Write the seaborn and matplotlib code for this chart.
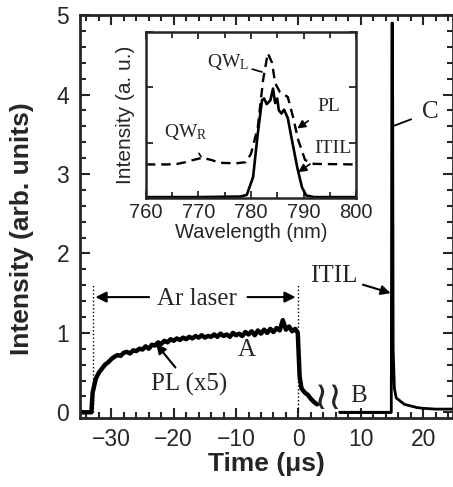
import matplotlib
matplotlib.use("Agg")
import matplotlib.pyplot as plt
import seaborn as sns
import pandas as pd
from matplotlib.ticker import MultipleLocator

# ---------------- data ----------------
pl_time = [-35.0, -33.2, -33.0, -32.5, -32.0, -31.5, -31.0, -30.5, -30.0, -29.5, -29.0, -28.5,
           -28.0, -27.5, -27.0, -26.5, -26.0, -25.5, -25.0, -24.5, -24.0, -23.5, -23.0,
           -22.5, -22.0, -21.5, -21.0, -20.5, -20.0, -19.5, -19.0, -18.5, -18.0, -17.5,
           -17.0, -16.5, -16.0, -15.5, -15.0, -14.5, -14.0, -13.5, -13.0, -12.5, -12.0,
           -11.5, -11.0, -10.5, -10.0, -9.5, -9.0, -8.5, -8.0, -7.5, -7.0, -6.5, -6.0,
           -5.5, -5.0, -4.5, -4.0, -3.5, -3.0, -2.5, -2.0, -1.5, -1.0, -0.5, -0.1,
           0.2, 0.5, 1.0, 1.5, 2.0, 2.5, 3.0]
pl_int = [0.0, 0.0, 0.25, 0.42, 0.50, 0.55, 0.60, 0.63, 0.67, 0.70, 0.72, 0.71,
          0.75, 0.76, 0.74, 0.78, 0.77, 0.80, 0.79, 0.83, 0.80, 0.85, 0.84,
          0.88, 0.86, 0.90, 0.88, 0.92, 0.90, 0.93, 0.91, 0.94, 0.92, 0.95,
          0.93, 0.96, 0.94, 0.97, 0.94, 0.96, 0.95, 0.98, 0.95, 0.99, 0.96,
          0.98, 0.95, 1.00, 0.97, 0.99, 0.96, 1.01, 0.98, 1.02, 0.97, 1.03, 0.99,
          1.04, 1.00, 1.05, 1.01, 1.06, 1.03, 1.16, 1.04, 1.08, 1.02, 1.05, 1.00,
          0.45, 0.30, 0.25, 0.22, 0.17, 0.13, 0.10]

itil_time = [6.6, 14.7, 14.9, 15.0, 15.1, 15.2, 15.4, 15.7, 16.2, 17.0, 18.0, 19.0, 20.0, 22.0, 25.0]
itil_int = [0.0, 0.0, 0.0, 4.9, 4.9, 0.8, 0.30, 0.18, 0.15, 0.10, 0.08, 0.06, 0.05, 0.04, 0.04]

wl_pl = [760, 764, 766, 767.5, 769, 770.7, 772.5, 774, 777, 779, 780, 781.3, 782.3, 783.2, 784.0,
         784.6, 785.5, 787.0, 788.0, 789.0, 790.3, 792, 800]
spec_pl = [0.61, 0.61, 0.62, 0.65, 0.69, 0.73, 0.69, 0.64, 0.63, 0.65, 0.80, 1.28, 2.13, 2.62,
           2.45, 2.08, 1.92, 1.83, 1.47, 1.05, 0.69, 0.62, 0.61]

wl_itil = [760, 770, 778, 779.2, 780.4, 781.3, 782.1, 782.5, 783.0, 783.7, 784.2, 784.6, 785.0,
           785.3, 785.8, 786.3, 787.0, 787.8, 788.8, 789.7, 790.5, 792, 800]
spec_itil = [0.02, 0.02, 0.03, 0.06, 0.38, 1.17, 1.77, 1.80, 1.70, 1.77, 1.98, 1.72, 1.80,
             1.59, 1.53, 1.60, 1.45, 1.05, 0.56, 0.20, 0.05, 0.02, 0.02]

# ---------------- style ----------------
sns.set_style("ticks")
plt.rcParams["font.family"] = ["Liberation Sans", "DejaVu Sans"]
plt.rcParams["mathtext.fontset"] = "custom"
plt.rcParams["mathtext.rm"] = "Liberation Serif"
plt.rcParams["mathtext.it"] = "Liberation Serif:italic"

SERIF = ["Liberation Serif", "DejaVu Sans"]

fig = plt.figure(figsize=(4.53, 4.87), dpi=100)
ax = fig.add_axes([0.177, 0.142, 0.823, 0.827])

df_pl = pd.DataFrame({"t": pl_time, "I": pl_int})
df_itil = pd.DataFrame({"t": itil_time, "I": itil_int})
sns.lineplot(data=df_pl, x="t", y="I", ax=ax, color="black", lw=3.2, sort=False, estimator=None)
sns.lineplot(data=df_itil, x="t", y="I", ax=ax, color="black", lw=2.0, sort=False, estimator=None)

ax.set_xlim(-35, 24.8)
ax.set_ylim(-0.07, 5)
ax.xaxis.set_major_locator(MultipleLocator(10))
ax.xaxis.set_minor_locator(MultipleLocator(2))
ax.yaxis.set_major_locator(MultipleLocator(1))
ax.yaxis.set_minor_locator(MultipleLocator(0.2))
ax.tick_params(which="both", direction="in", top=True, right=True, width=1.5, labelsize=16.5)
ax.tick_params(which="major", length=7)
ax.tick_params(which="minor", length=4)
ax.tick_params(axis="x", which="major", pad=7)
ax.tick_params(axis="y", which="major", pad=8)
for s in ax.spines.values():
    s.set_linewidth(2.0)
ax.set_xlabel("Time (\u03bcs)", fontsize=19, fontweight="bold", labelpad=1)
ax.set_ylabel("Intensity (arb. units)", fontsize=19, fontweight="bold")
ax.yaxis.set_label_coords(-0.125, 0.47)

# dotted markers of laser on/off
ax.plot([-33, -33], [0, 1.6], ls=":", color="black", lw=1)
ax.plot([0, 0], [0, 1.6], ls=":", color="black", lw=1)
ax.annotate("", xy=(-33, 1.45), xytext=(-23.5, 1.45),
            arrowprops=dict(arrowstyle="-|>", color="black", lw=1.5, mutation_scale=16))
ax.annotate("", xy=(0, 1.45), xytext=(-8.6, 1.45),
            arrowprops=dict(arrowstyle="-|>", color="black", lw=1.5, mutation_scale=16))
ax.text(-16.2, 1.43, "Ar laser", ha="center", va="center", fontsize=18, family=SERIF)
ax.text(-8.3, 0.78, "A", ha="center", va="center", fontsize=18, family=SERIF)
ax.annotate("PL (x5)", xy=(-22.8, 0.86), xytext=(-17.5, 0.35), ha="center", va="center",
            fontsize=18, family=SERIF,
            arrowprops=dict(arrowstyle="-|>", color="black", lw=1.5, mutation_scale=14,
                            shrinkA=2, shrinkB=0))
ax.text(4.7, 0.16, "\u2240\u2240", ha="center", va="center", fontsize=28, family=SERIF)
ax.plot([6.6, 14.7], [0, 0], color="black", lw=2)
ax.text(9.7, 0.21, "B", ha="center", va="center", fontsize=18, family=SERIF)
ax.annotate("ITIL", xy=(14.8, 1.5), xytext=(5.6, 1.72), ha="center", va="center",
            fontsize=18, family=SERIF,
            arrowprops=dict(arrowstyle="-|>", color="black", lw=1.5, mutation_scale=14,
                            shrinkA=2, shrinkB=0))
ax.annotate("C", xy=(15.1, 3.6), xytext=(21.2, 3.78), ha="center", va="center",
            fontsize=18, family=SERIF,
            arrowprops=dict(arrowstyle="-", color="black", lw=1.3, shrinkA=6, shrinkB=0))

# ---------------- inset ----------------
ins = fig.add_axes([0.322, 0.593, 0.464, 0.341])
df_spl = pd.DataFrame({"w": wl_pl, "I": spec_pl})
df_sit = pd.DataFrame({"w": wl_itil, "I": spec_itil})
sns.lineplot(data=df_spl, x="w", y="I", ax=ins, color="black", lw=1.7, ls=(0, (4, 2.5)),
             sort=False, estimator=None)
sns.lineplot(data=df_sit, x="w", y="I", ax=ins, color="black", lw=1.9, sort=False, estimator=None)
ins.set_xlim(760, 800)
ins.set_ylim(0, 3)
ins.xaxis.set_major_locator(MultipleLocator(10))
ins.xaxis.set_minor_locator(MultipleLocator(5))
ins.yaxis.set_major_locator(MultipleLocator(1))
ins.tick_params(which="both", direction="in", top=True, right=True, width=1.3, labelsize=14.5)
ins.tick_params(which="major", length=5)
ins.tick_params(which="minor", length=4)
ins.tick_params(axis="y", labelleft=False)
for s in ins.spines.values():
    s.set_linewidth(1.8)
ins.set_xlabel("Wavelength (nm)", fontsize=14.5, labelpad=1)
ins.set_ylabel("Intensity (a. u.)", fontsize=15, labelpad=8)

ins.annotate("QW$_{\\mathrm{L}}$", xy=(782.1, 2.28), xytext=(775.6, 2.46), ha="center", va="center",
             fontsize=14, family=SERIF,
             arrowprops=dict(arrowstyle="-", color="black", lw=1.2, shrinkA=10, shrinkB=0))
ins.annotate("QW$_{\\mathrm{R}}$", xy=(770.5, 0.75), xytext=(767.6, 1.2), ha="center", va="center",
             fontsize=14, family=SERIF,
             arrowprops=dict(arrowstyle="-", color="black", lw=1.2, shrinkA=7, shrinkB=0))
ins.annotate("PL", xy=(788.8, 1.26), xytext=(794.8, 1.65), ha="center", va="center",
             fontsize=14, family=SERIF,
             arrowprops=dict(arrowstyle="-|>", color="black", lw=1.2, mutation_scale=12,
                             shrinkA=5, shrinkB=0))
ins.annotate("ITIL", xy=(789.0, 0.47), xytext=(795.6, 0.9), ha="center", va="center",
             fontsize=14, family=SERIF,
             arrowprops=dict(arrowstyle="-|>", color="black", lw=1.2, mutation_scale=12,
                             shrinkA=5, shrinkB=0))

fig.savefig("out.png", dpi=100)
